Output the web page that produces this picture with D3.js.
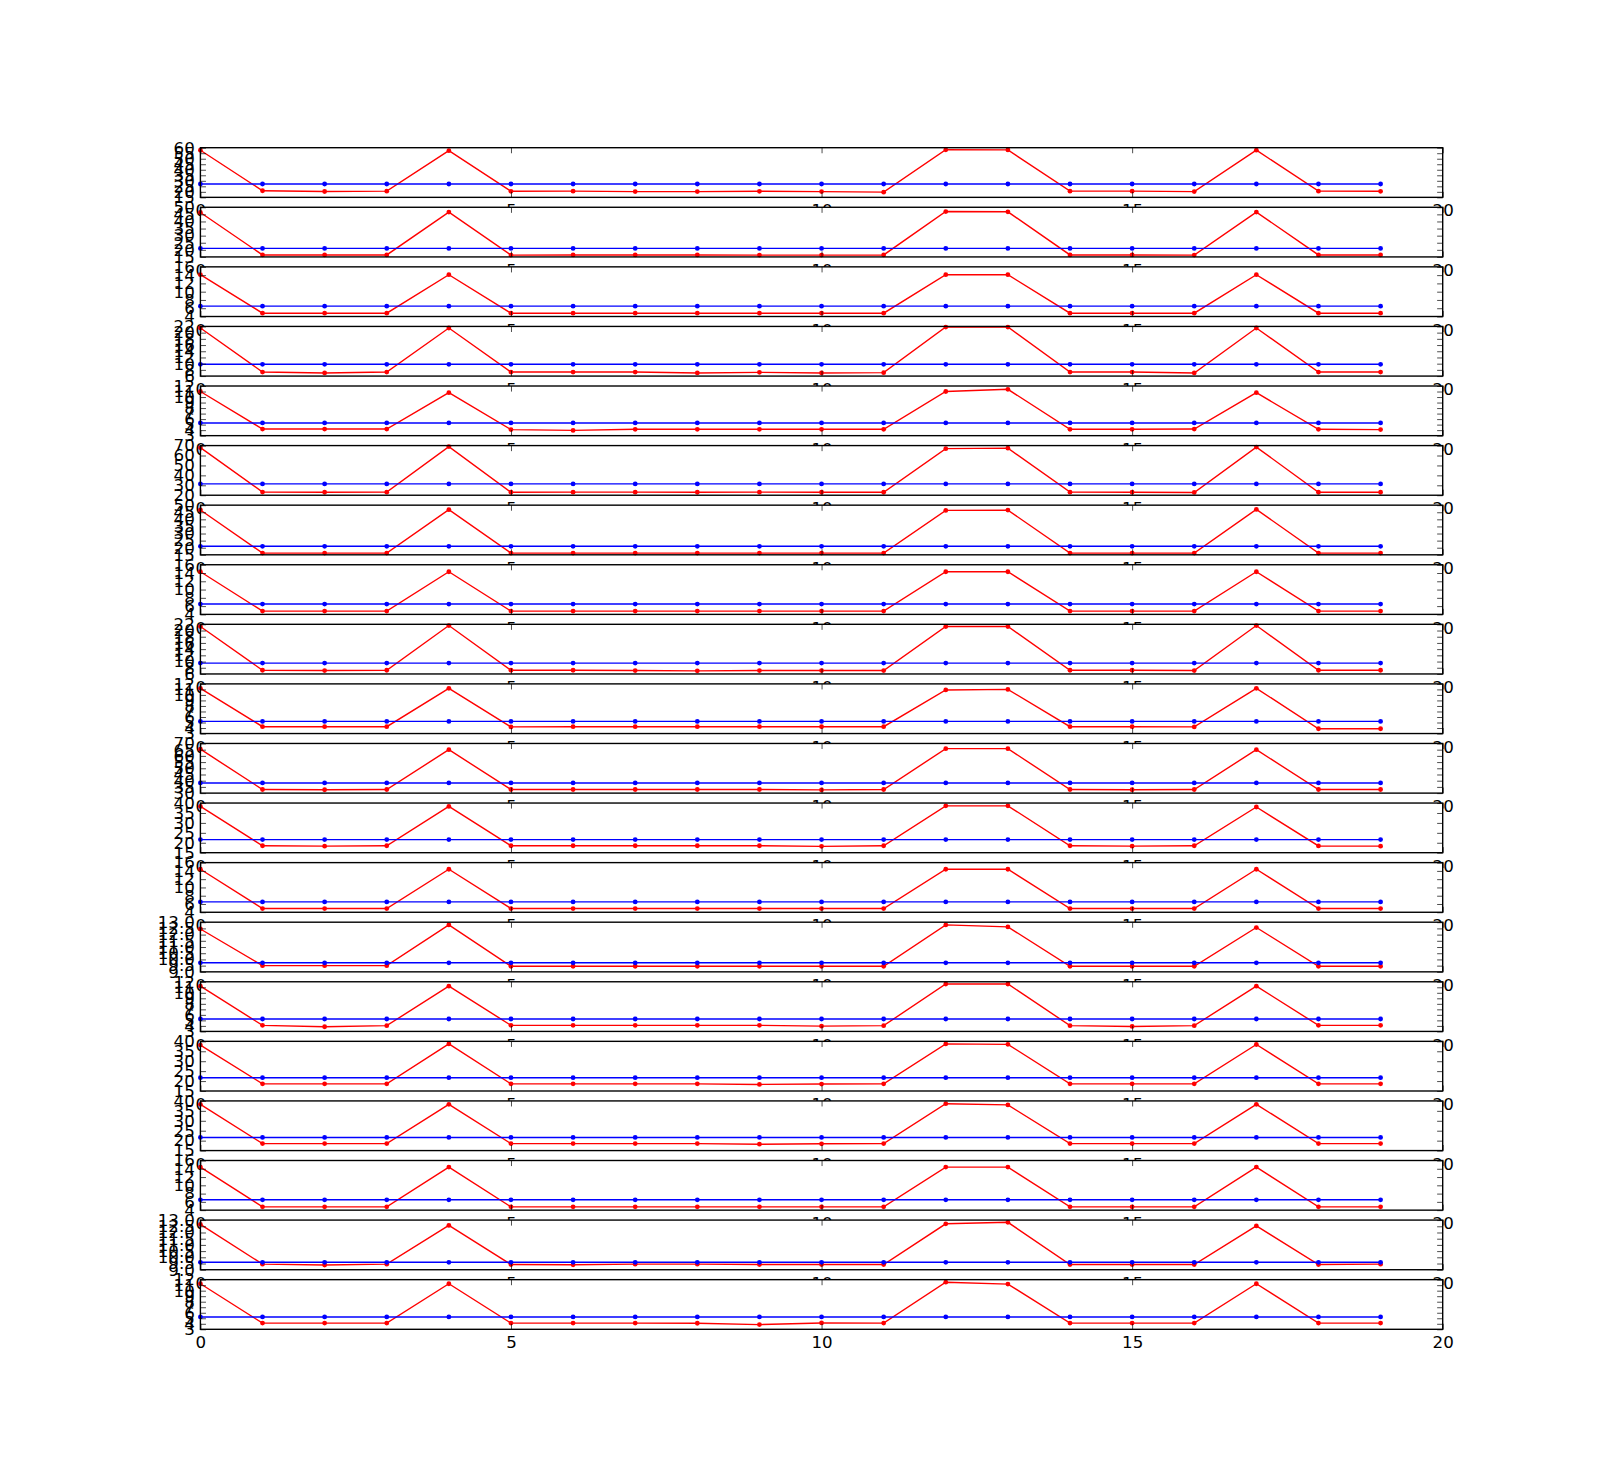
<!DOCTYPE html>
<html><head><meta charset="utf-8">
<script src="https://cdn.jsdelivr.net/npm/d3@7"></script>
<style>body{margin:0;background:#fff}svg{display:block}</style>
</head><body>
<script>
// ---- data ----
const xValues = [0,1,2,3,4,5,6,7,8,9,10,11,12,13,14,15,16,17,18,19];
const xTicks = [0,5,10,15,20];
const xMin = 0, xMax = 20;

const redSeries = [
  [57.7,21.0,20.3,20.6,57.3,20.5,20.6,20.2,20.2,20.5,20.2,19.7,58.1,58.0,20.6,20.6,20.2,57.8,20.6,20.5],
  [46.3,16.4,16.4,16.4,46.6,16.3,16.4,16.4,16.4,16.3,16.3,16.4,47.0,46.8,16.4,16.4,16.3,46.6,16.4,16.4],
  [14.1,4.8,4.8,4.8,14.1,4.8,4.8,4.8,4.8,4.8,4.8,4.8,14.1,14.1,4.8,4.8,4.8,14.1,4.8,4.8],
  [21.5,7.3,7.0,7.3,21.5,7.3,7.3,7.3,7.0,7.2,7.0,7.1,21.8,21.8,7.3,7.3,7.0,21.5,7.3,7.3],
  [11.0,4.2,4.2,4.2,10.8,4.1,3.95,4.15,4.15,4.15,4.15,4.15,11.0,11.4,4.15,4.15,4.2,10.8,4.15,4.1],
  [67.9,23.2,23.0,23.1,69.0,23.0,23.1,23.1,23.0,23.1,23.0,23.0,66.9,67.4,23.1,23.0,22.8,68.5,23.0,23.0],
  [46.6,16.2,16.2,16.2,46.8,16.2,16.2,16.2,16.2,16.2,16.2,16.2,46.3,46.5,16.2,16.2,16.2,47.0,16.2,16.2],
  [14.3,4.8,4.8,4.8,14.3,4.8,4.8,4.8,4.8,4.8,4.8,4.8,14.3,14.3,4.8,4.8,4.8,14.3,4.8,4.8],
  [21.3,7.2,7.1,7.2,21.6,7.2,7.2,7.1,7.0,7.1,7.1,7.1,21.3,21.3,7.2,7.2,7.1,21.6,7.2,7.2],
  [11.2,4.24,4.24,4.24,11.2,4.2,4.24,4.24,4.24,4.24,4.24,4.24,10.9,11.0,4.24,4.24,4.2,11.2,3.87,3.87],
  [65.4,32.9,32.7,32.9,65.0,32.9,32.9,32.9,32.9,32.9,32.6,32.9,65.8,65.8,32.9,32.7,32.9,65.0,32.9,32.9],
  [38.3,18.5,18.3,18.5,38.3,18.5,18.5,18.5,18.5,18.5,18.2,18.5,38.6,38.6,18.5,18.3,18.5,38.0,18.4,18.3],
  [14.4,4.9,4.9,4.9,14.4,4.9,4.9,4.9,4.9,4.9,4.9,4.9,14.4,14.4,4.9,4.9,4.9,14.4,4.9,4.9],
  [12.45,9.5,9.5,9.5,12.78,9.45,9.45,9.45,9.45,9.45,9.45,9.45,12.78,12.62,9.45,9.45,9.45,12.57,9.45,9.45],
  [11.2,4.1,3.85,4.05,11.2,4.1,4.1,4.1,4.1,4.1,3.95,4.05,11.6,11.6,4.05,3.9,4.05,11.2,4.1,4.1],
  [38.1,18.6,18.6,18.6,38.7,18.6,18.6,18.6,18.6,18.3,18.5,18.6,38.7,38.5,18.6,18.6,18.6,38.4,18.6,18.6],
  [38.3,18.5,18.5,18.5,38.3,18.5,18.5,18.5,18.5,18.2,18.4,18.5,38.6,38.0,18.5,18.5,18.5,38.3,18.5,18.5],
  [14.4,4.8,4.8,4.8,14.4,4.8,4.8,4.8,4.8,4.8,4.8,4.8,14.4,14.4,4.8,4.8,4.8,14.4,4.8,4.8],
  [12.65,9.45,9.38,9.45,12.57,9.42,9.4,9.45,9.45,9.42,9.42,9.42,12.7,12.82,9.42,9.42,9.42,12.53,9.42,9.45],
  [11.26,4.12,4.12,4.12,11.26,4.12,4.12,4.12,4.1,3.85,4.15,4.12,11.54,11.2,4.12,4.12,4.12,11.26,4.12,4.12]
];
const blueValues = [27.1,21.0,6.5,9.8,5.3,31.4,21.0,6.5,9.5,5.2,38.2,21.6,6.5,9.73,5.25,21.7,21.6,6.5,9.6,5.24];

const yMin  = [15,15,4,6,3,20,15,4,6,3,30,15,4,9,3,15,15,4,9,3];
const yMax  = [60,50,16,22,12,70,50,16,22,12,70,40,16,13,12,40,40,16,13,12];
const yStep = [5,5,2,2,1,10,5,2,2,1,5,5,2,0.5,1,5,5,2,0.5,1];

// ---- layout ----
const W = 1603, H = 1477;
const axLeft = 200.4, axRight = 1442.7, axTop = 147.7, axBottom = 1329.3;
const nP = redSeries.length;
const ph = (axBottom - axTop) / (nP + (nP - 1) * 0.2);
const gap = 0.2 * ph;
const tickLen = 5.56;
const font = "'DejaVu Sans', sans-serif";
const fs = 16.67;

const svg = d3.select("body").append("svg").attr("width", W).attr("height", H)
  .style("font-family", font);
svg.append("rect").attr("width", W).attr("height", H).attr("fill", "#fff");

const x = d3.scaleLinear().domain([xMin, xMax]).range([axLeft, axRight]);

for (let i = 0; i < nP; i++) {
  const y0 = axTop + i * (ph + gap);
  const y = d3.scaleLinear().domain([yMin[i], yMax[i]]).range([y0 + ph, y0]);
  const g = svg.append("g");
  g.append("rect").attr("x", axLeft).attr("y", y0).attr("width", axRight - axLeft).attr("height", ph).attr("fill", "#fff");

  const yt = [];
  for (let v = yMin[i]; v <= yMax[i] + yStep[i] / 2; v += yStep[i]) yt.push(+v.toFixed(3));
  const fmt = yStep[i] < 1 ? d3.format(".1f") : d3.format("d");

  const line = d3.line().x((d, k) => x(xValues[k])).y(d => y(d));
  const red = redSeries[i];
  const blue = xValues.map(() => blueValues[i]);
  [[red, "#ff0000"], [blue, "#0000ff"]].forEach(([data, col]) => {
    g.append("path").datum(data).attr("d", line).attr("fill", "none").attr("stroke", col).attr("stroke-width", 1.39);
    g.selectAll(null).data(data).enter().append("circle")
      .attr("cx", (d, k) => x(xValues[k])).attr("cy", d => y(d)).attr("r", 2.4).attr("fill", col);
  });

  const styleAxis = sel => {
    sel.select(".domain").remove();
    sel.selectAll(".tick line").attr("stroke", "#000").attr("stroke-width", 0.7);
    sel.selectAll("text").attr("fill", "#000").style("font-size", fs + "px").style("font-family", font);
  };
  g.append("g").attr("transform", `translate(${axLeft},0)`)
    .call(d3.axisLeft(y).tickValues(yt).tickFormat(fmt).tickSize(-tickLen).tickSizeOuter(0).tickPadding(5.6)).call(styleAxis);
  g.append("g").attr("transform", `translate(${axRight},0)`)
    .call(d3.axisRight(y).tickValues(yt).tickFormat("").tickSize(-tickLen).tickSizeOuter(0)).call(styleAxis);
  g.append("g").attr("transform", `translate(0,${y0 + ph})`)
    .call(d3.axisBottom(x).tickValues(xTicks).tickFormat(d3.format("d")).tickSize(-tickLen).tickSizeOuter(0).tickPadding(7.3)).call(styleAxis);
  g.append("g").attr("transform", `translate(0,${y0})`)
    .call(d3.axisTop(x).tickValues(xTicks).tickFormat("").tickSize(-tickLen).tickSizeOuter(0)).call(styleAxis);

  g.append("rect").attr("x", axLeft).attr("y", y0).attr("width", axRight - axLeft).attr("height", ph)
    .attr("fill", "none").attr("stroke", "#000").attr("stroke-width", 1.39);
}
</script>
</body></html>
